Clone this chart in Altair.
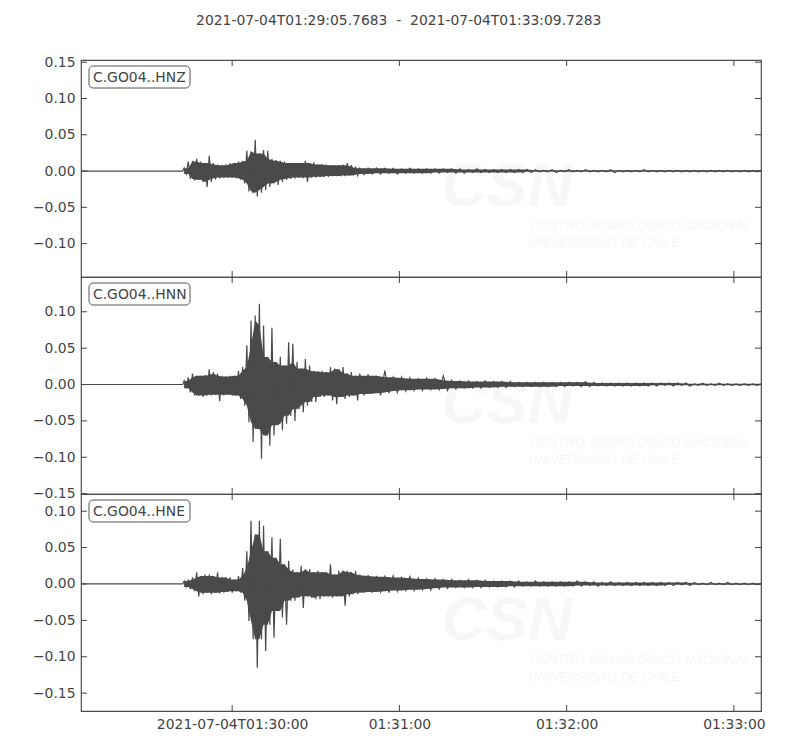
import altair as alt
import pandas as pd

# trace window
TRACE_START = "2021-07-04T01:29:05.7683"
TRACE_END = "2021-07-04T01:33:09.7283"
DURATION = 243.96   # seconds
ONSET = 36.5        # flat before this

channels = ["C.GO04..HNZ", "C.GO04..HNN", "C.GO04..HNE"]

times = [37, 38.5, 40, 41.5, 43, 44.5, 46, 47.5, 49, 50.5,
         52, 53.5, 55, 56.5, 58, 59.5, 61, 62.5, 64, 65.5,
         67, 68.5, 70, 71.5, 73, 74.5, 76, 77.5, 79, 80.5,
         82, 83.5, 85, 86.5, 88, 89.5, 91, 92.5, 94, 95.5,
         97, 98.5, 100,
         103, 106, 109, 112, 115, 118, 121, 124, 127, 130,
         133, 136, 139, 142, 145, 148, 151, 154, 157, 160,
         163, 166, 169, 172, 175, 178, 181, 184, 187, 190,
         193, 196, 199, 202, 205, 208, 211, 214, 217, 220,
         223, 226, 229, 232, 235, 238, 241, 244]

# peak amplitudes, in thousandths
hnz_hi = [4, 13, 14, 17, 13, 11, 21, 11, 9, 8, 9, 11, 11, 13, 14, 28, 27, 43, 24, 29,
          28, 17, 15, 14, 13, 11, 11, 11, 11, 14, 11, 12, 9, 9, 9, 8, 8, 8, 9, 11,
          8, 6, 4,
          4, 4, 4, 4, 3, 4, 3, 3, 3, 3, 3, 3, 2, 3, 2, 2, 2, 2, 2, 2,
          2, 1, 2, 1, 2, 1, 2, 1, 1, 2, 1, 1, 1, 2, 1, 1, 1, 1, 1, 1,
          1, 1, 1, 1, 1, 1, 1, 1]
hnz_lo = [-4, -11, -13, -12, -15, -22, -15, -12, -10, -9, -9, -9, -10, -12, -17, -28, -31, -35, -30, -26,
          -22, -17, -19, -15, -12, -11, -10, -9, -10, -15, -9, -9, -8, -8, -8, -7, -7, -7, -7, -6,
          -6, -6, -5,
          -4, -4, -3, -4, -3, -3, -3, -3, -3, -2, -3, -3, -2, -2, -2, -2, -2, -2, -2, -2,
          -1, -1, -2, -1, -1, -1, -1, -1, -1, -2, -1, -1, -1, -1, -1, -1, -1, -1, -1, -1,
          -1, -1, -1, -1, -1, -1, -1, -1]

hnn_hi = [5, 10, 15, 12, 12, 13, 21, 17, 15, 12, 11, 12, 12, 19, 24, 54, 88, 95, 111, 81,
          38, 78, 31, 38, 26, 58, 56, 31, 22, 35, 26, 19, 18, 19, 17, 24, 22, 21, 24, 15,
          17, 12, 15,
          14, 12, 19, 10, 10, 9, 8, 9, 8, 12, 6, 5, 5, 4, 5, 4, 4, 4, 3, 3,
          3, 3, 3, 3, 3, 3, 4, 3, 2, 2, 2, 2, 2, 2, 2, 2, 2, 2, 2, 1,
          2, 1, 2, 1, 1, 1, 1, 1]
hnn_lo = [-5, -11, -15, -15, -17, -15, -15, -14, -23, -15, -14, -15, -15, -20, -29, -52, -79, -61, -102, -70,
          -84, -70, -56, -63, -54, -43, -50, -34, -38, -29, -24, -24, -17, -17, -15, -22, -27, -17, -20, -17,
          -15, -22, -15,
          -13, -15, -12, -11, -9, -8, -8, -7, -7, -8, -6, -5, -5, -5, -4, -4, -4, -3, -3, -3,
          -3, -3, -3, -3, -2, -3, -3, -2, -2, -2, -2, -2, -2, -2, -2, -1, -2, -1, -2, -1,
          -1, -1, -1, -1, -1, -1, -1, -1]

hne_hi = [4, 6, 9, 16, 11, 13, 13, 11, 16, 9, 9, 9, 6, 11, 22, 45, 87, 68, 87, 80,
          45, 64, 36, 62, 27, 32, 20, 16, 25, 20, 20, 16, 18, 16, 16, 27, 13, 18, 18, 18,
          16, 18, 13,
          12, 11, 10, 11, 9, 10, 8, 7, 7, 6, 6, 5, 6, 5, 5, 4, 4, 4, 4, 3,
          4, 3, 3, 3, 3, 4, 3, 3, 2, 3, 2, 2, 2, 2, 2, 2, 2, 2, 2, 2,
          1, 2, 1, 2, 1, 1, 1, 1]
hne_lo = [-4, -7, -10, -17, -14, -12, -14, -12, -13, -12, -11, -12, -10, -12, -23, -51, -76, -115, -76, -92,
          -56, -74, -37, -46, -56, -23, -23, -19, -33, -17, -19, -21, -21, -17, -17, -19, -17, -17, -30, -17,
          -14, -14, -12,
          -12, -11, -12, -10, -9, -9, -8, -8, -7, -6, -5, -5, -5, -5, -4, -4, -4, -4, -3, -3,
          -3, -3, -3, -3, -3, -3, -2, -3, -2, -2, -2, -2, -2, -2, -2, -2, -2, -1, -2, -1,
          -1, -1, -1, -1, -1, -1, -1, -1]

peaks = [(hnz_hi, hnz_lo), (hnn_hi, hnn_lo), (hne_hi, hne_lo)]

y_domains = [[-0.146, 0.153], [-0.1505, 0.1478], [-0.1745, 0.1236]]
y_ticks = [[-0.10, -0.05, 0.0, 0.05, 0.10, 0.15],
           [-0.15, -0.10, -0.05, 0.0, 0.05, 0.10],
           [-0.15, -0.10, -0.05, 0.0, 0.05, 0.10]]

x_ticks = [54.2317, 114.2317, 174.2317, 234.2317]
x_labels = ["2021-07-04T01:30:00", "01:31:00", "01:32:00", "01:33:00"]

W, H = 680, 217
INK = "#444444"
WAVE = "#4a4a4a"
MARK = "#f7f7f7"
FONT = "DejaVu Sans"
FS = 13.9


def trace_frame(hi, lo):
    # zigzag through the read peaks: up at each sample, down half way to the next
    rows = [{"t": 0.0, "v": 0.0}, {"t": ONSET, "v": 0.0}]
    for i, t in enumerate(times):
        nxt = times[i + 1] if i + 1 < len(times) else t + 3
        rows.append({"t": t, "v": hi[i] / 1000})
        rows.append({"t": (t + nxt) / 2, "v": lo[i] / 1000})
    return pd.DataFrame(rows)


def core_frame(hi, lo):
    # dense part of the trace: the smaller of neighbouring peaks
    n = len(times)
    rows = []
    for i, t in enumerate(times):
        idx = [j for j in (i - 1, i, i + 1) if 0 <= j < n]
        rows.append({"t": t,
                     "top": min(hi[j] for j in idx) / 1000,
                     "bot": max(lo[j] for j in idx) / 1000})
    return pd.DataFrame(rows)


def label_expr():
    expr = "''"
    for t, lab in reversed(list(zip(x_ticks, x_labels))):
        expr = f"abs(datum.value - {t}) < 1 ? '{lab}' : {expr}"
    return expr


def panel(k, bottom):
    xscale = alt.Scale(domain=[0, DURATION], nice=False, zero=False)
    yscale = alt.Scale(domain=y_domains[k], nice=False, zero=False)
    if bottom:
        xaxis = alt.Axis(values=x_ticks, labelExpr=label_expr(), ticks=False, domain=False,
                         grid=False, labelFlush=False, labelPadding=6, title=None)
    else:
        xaxis = None
    yaxis = alt.Axis(values=y_ticks[k], format=".2f", ticks=False, domain=False, grid=False,
                     labelPadding=6, labelOverlap=False, title=None)

    one = pd.DataFrame({"a": [0]})

    # faint watermark
    wm_big = alt.Chart(one).mark_text(
        text="CSN", font="Liberation Sans", fontSize=62, fontWeight="bold", fontStyle="italic",
        color=MARK, align="center", baseline="alphabetic"
    ).encode(x=alt.value(426), y=alt.value(146))
    wm_l1 = alt.Chart(one).mark_text(
        text="CENTRO SISMOLÓGICO NACIONAL", font="Liberation Sans", fontSize=13,
        fontStyle="italic", color=MARK, align="left", baseline="alphabetic"
    ).encode(x=alt.value(449), y=alt.value(170))
    wm_l2 = alt.Chart(one).mark_text(
        text="UNIVERSIDAD DE CHILE", font="Liberation Sans", fontSize=13,
        fontStyle="italic", color=MARK, align="left", baseline="alphabetic"
    ).encode(x=alt.value(447), y=alt.value(187))

    hi, lo = peaks[k]
    core = alt.Chart(core_frame(hi, lo)).mark_area(color=WAVE, clip=True).encode(
        x=alt.X("t:Q", scale=xscale, axis=xaxis),
        y=alt.Y("top:Q", scale=yscale, axis=yaxis),
        y2="bot:Q",
    )
    wave = alt.Chart(trace_frame(hi, lo)).mark_line(
        color=WAVE, strokeWidth=1.2, clip=True
    ).encode(
        x=alt.X("t:Q", scale=xscale, axis=xaxis),
        y=alt.Y("v:Q", scale=yscale, axis=yaxis),
    )

    # inward ticks on all four sides
    yt = alt.Chart(pd.DataFrame({"v": y_ticks[k]}))
    yl = yt.mark_rule(color=INK).encode(y=alt.Y("v:Q", title=None), x=alt.value(0), x2=alt.value(6))
    yr = yt.mark_rule(color=INK).encode(y=alt.Y("v:Q", title=None), x=alt.value(W - 6), x2=alt.value(W))
    xt = alt.Chart(pd.DataFrame({"t": x_ticks}))
    xtop = xt.mark_rule(color=INK).encode(x=alt.X("t:Q", title=None), y=alt.value(0), y2=alt.value(6))
    xbot = xt.mark_rule(color=INK).encode(x=alt.X("t:Q", title=None), y=alt.value(H - 6), y2=alt.value(H))

    box = alt.Chart(pd.DataFrame({"label": [channels[k]]})).mark_rect(
        fill="white", stroke="#555555", strokeWidth=1, cornerRadius=4
    ).encode(x=alt.value(8), x2=alt.value(109), y=alt.value(6), y2=alt.value(28))
    txt = alt.Chart(pd.DataFrame({"label": [channels[k]]})).mark_text(
        align="left", baseline="middle", fontSize=FS, font=FONT, color=INK
    ).encode(x=alt.value(12), y=alt.value(17.5), text="label:N")

    return alt.layer(wm_big, wm_l1, wm_l2, core, wave, yl, yr, xtop, xbot, box, txt).properties(
        width=W, height=H
    )


chart = alt.vconcat(
    panel(0, False), panel(1, False), panel(2, True),
    spacing=0, bounds="flush"
).properties(
    title=alt.TitleParams(
        text=f"{TRACE_START} \u00a0-\u00a0 {TRACE_END}", fontSize=FS, font=FONT,
        fontWeight="normal", color=INK, anchor="middle", offset=27
    ),
    padding={"left": 23, "top": 5, "right": 10, "bottom": 5},
).configure_view(
    stroke="#4d4d4d", strokeWidth=1.2
).configure_axis(
    labelFont=FONT, labelFontSize=FS, labelColor=INK
)

chart.save("out.html", embed_options={"renderer": "svg", "actions": False})
